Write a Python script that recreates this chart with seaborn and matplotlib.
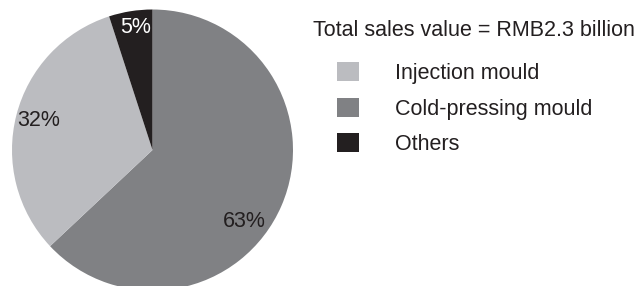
import matplotlib
matplotlib.use("Agg")
import matplotlib.pyplot as plt
import matplotlib.patches as mpatches
import seaborn as sns
import numpy as np

# data
categories = ['Cold-pressing mould', 'Injection mould', 'Others']
shares = [63, 32, 5]
colors = ['#808184', '#bbbcc0', '#231f20']
legend_order = ['Injection mould', 'Cold-pressing mould', 'Others']
title = 'Total sales value = RMB2.3 billion'

sns.set_theme(style='white')
plt.rcParams['font.family'] = ['Liberation Sans', 'DejaVu Sans']

fig = plt.figure(figsize=(6.38, 2.86), dpi=100)
W, H = 638, 286
# pie: centre at (152.5, 150) px, radius 140.5 px
ax = fig.add_axes([12 / W, (286 - 290.5) / H, 281 / W, 281 / H])

fs = 15.5
wedges, texts, autotexts = ax.pie(
    shares, colors=colors, startangle=90, counterclock=False,
    autopct='%d%%', pctdistance=0.84,
    wedgeprops={'linewidth': 0},
    textprops={'fontsize': fs, 'color': '#231f20'},
)
autotexts[2].set_color('white')
# label positions as in the original (63% sits lower than the wedge middle)
for t, deg, r in [(autotexts[0], -38, 0.83), (autotexts[2], 98, 0.88)]:
    a = np.deg2rad(deg)
    t.set_position((r * np.cos(a), r * np.sin(a)))
ax.set_xlim(-1, 1)
ax.set_ylim(-1, 1)
ax.set_aspect('equal')
ax.axis('off')

fig.text(313 / W, 1 - 30 / H, title, fontsize=fs, color='#231f20',
         ha='left', va='center')

handles = [mpatches.Patch(facecolor=colors[categories.index(c)], edgecolor='none')
           for c in legend_order]
leg = fig.legend(handles, legend_order,
                 loc='upper left', bbox_to_anchor=(337 / W, 1 - 62 / H),
                 frameon=False, fontsize=fs,
                 handlelength=1.0, handleheight=1.0, handletextpad=1.7,
                 labelspacing=0.63, borderpad=0, borderaxespad=0)
for t in leg.get_texts():
    t.set_color('#231f20')

fig.savefig('out.png', dpi=100)
